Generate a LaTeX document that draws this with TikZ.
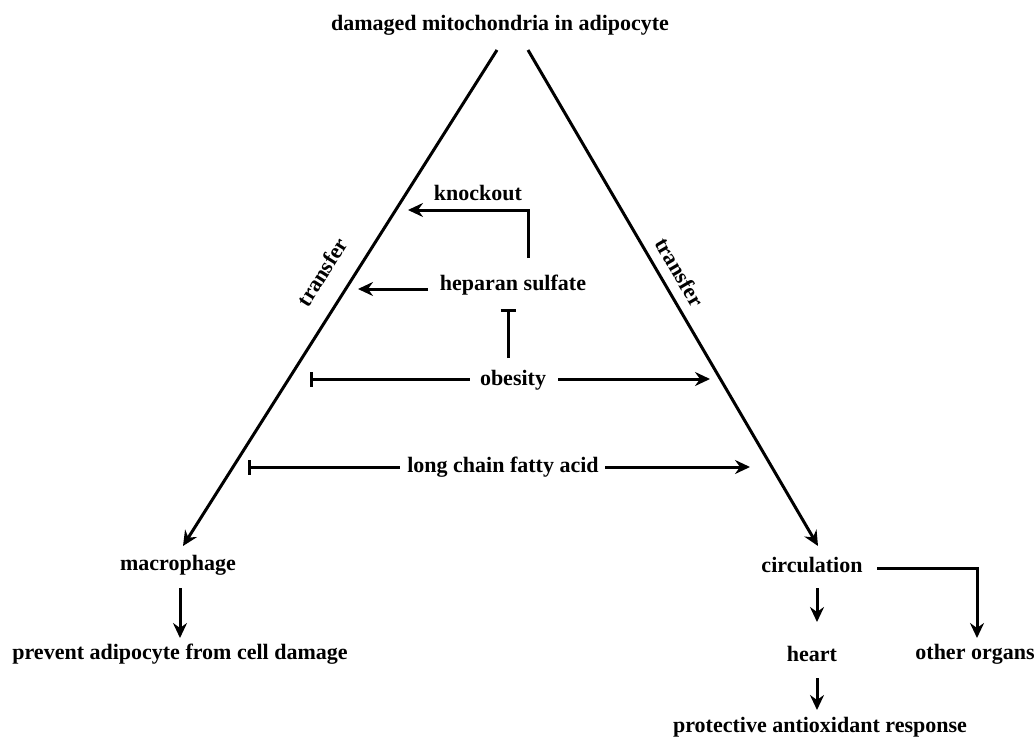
\documentclass[tikz,border=0pt]{standalone}
\usepackage{fontspec}
\setmainfont{Liberation Serif}
\usetikzlibrary{arrows.meta}
\begin{document}
\begin{tikzpicture}[x=1pt,y=-1pt,
  lbl/.style={font=\fontsize{22}{25}\selectfont\bfseries, inner sep=0pt},
  conn/.style={line width=3pt},
  arr/.style={conn, -{Stealth[length=15pt,width=14pt,inset=5pt]}},
  inh/.style={conn, -{Bar[width=15pt,line width=3pt]}},
  inhb/.style={conn, {Bar[width=15pt,line width=3pt]}-}]
\useasboundingbox[fill=white] (0,0) rectangle (1035,738);
\node[lbl] (title) at (500,25) {damaged mitochondria in adipocyte};
\node[lbl] (knock) at (478,193) {knockout};
\node[lbl] (hs) at (513,285) {heparan sulfate};
\node[lbl] (ob) at (513,380) {obesity};
\node[lbl] (lcfa) at (503,467) {long chain fatty acid};
\node[lbl] (mac) at (178,565) {macrophage};
\node[lbl] (prev) at (180,654) {prevent adipocyte from cell damage};
\node[lbl] (circ) at (812,565) {circulation};
\node[lbl] (heart) at (812,654) {heart};
\node[lbl] (other) at (975,654) {other organs};
\node[lbl] (prot) at (820,727) {protective antioxidant response};
\node[lbl, rotate=57.6] (t1) at (322,272) {transfer};
\node[lbl, rotate=-59.6] (t2) at (680,272) {transfer};
% triangle
\coordinate (tl) at (497,50);
\coordinate (tr) at (528,50);
\coordinate (ml) at (183,546);
\coordinate (cr) at (818,546);
\draw[arr] (tl) -- (ml);
\draw[arr] (tr) -- (cr);
% knockout
\coordinate (k1) at (528,258);
\coordinate (k2) at (408,210);
\draw[arr] (k1) |- (k2);
\coordinate (h1) at (428,289);
\coordinate (h2) at (358,289);
\draw[arr] (h1) -- (h2);
\coordinate (o1) at (508,358);
\coordinate (o2) at (508,309);
\draw[inh] (o1) -- (o2);
\coordinate (ol) at (310,379);
\coordinate (or) at (710,379);
\coordinate (ola) at (470,379);
\coordinate (ora) at (558,379);
\draw[inhb] (ol) -- (ola);
\draw[arr] (ora) -- (or);
\coordinate (ll) at (248,467);
\coordinate (lr) at (750,467);
\coordinate (lla) at (400,467);
\coordinate (lra) at (605,467);
\draw[inhb] (ll) -- (lla);
\draw[arr] (lra) -- (lr);
% bottom
\coordinate (m1) at (180,588);
\coordinate (m2) at (180,638);
\draw[arr] (m1) -- (m2);
\coordinate (c1) at (817,588);
\coordinate (c2) at (817,622);
\draw[arr] (c1) -- (c2);
\coordinate (c3) at (877,568);
\coordinate (c4) at (977,638);
\draw[arr] (c3) -| (c4);
\coordinate (p1) at (817,678);
\coordinate (p2) at (817,710);
\draw[arr] (p1) -- (p2);
\end{tikzpicture}
\end{document}
